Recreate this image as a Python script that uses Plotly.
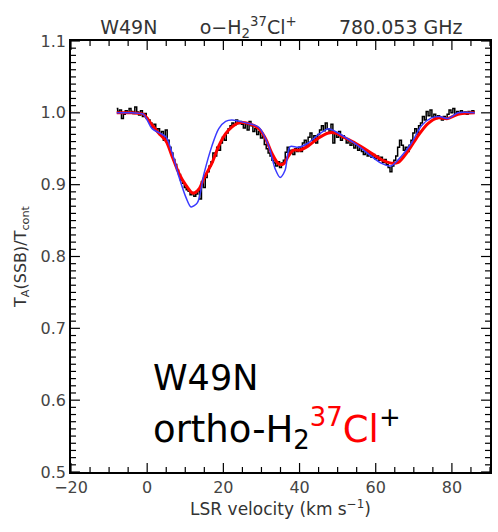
import plotly.graph_objects as go

# Observed spectrum (black), 0.5 km/s channels starting at -8 km/s
obs_t = [1.006, 1.002, 1.004, 0.992, 0.998, 1.003, 1.000, 1.006, 1.002, 0.999, 1.008, 1.001, 0.997, 1.003, 0.995, 0.999,
         0.992, 0.990, 0.986, 0.980, 0.984, 0.975, 0.978, 0.970, 0.974, 0.962, 0.976, 0.962, 0.952, 0.944, 0.935, 0.928, 0.920, 0.914, 0.906, 0.902,
         0.896, 0.893, 0.891, 0.886, 0.889, 0.884, 0.887, 0.892, 0.880, 0.904, 0.896, 0.910, 0.918, 0.926, 0.932, 0.944, 0.940, 0.952, 0.948, 0.958,
         0.966, 0.962, 0.972, 0.978, 0.982, 0.986, 0.983, 0.990, 0.985, 0.988, 0.984, 0.979, 0.985, 0.976, 0.988, 0.982, 0.974, 0.978, 0.970, 0.974,
         0.965, 0.968, 0.956, 0.950, 0.944, 0.940, 0.934, 0.930, 0.926, 0.932, 0.924, 0.930, 0.934, 0.945, 0.952, 0.944, 0.948, 0.942, 0.950, 0.946,
         0.952, 0.946, 0.958, 0.962, 0.954, 0.966, 0.972, 0.962, 0.968, 0.958, 0.970, 0.976, 0.982, 0.975, 0.986, 0.978, 0.972, 0.984, 0.958, 0.972,
         0.966, 0.974, 0.962, 0.968, 0.965, 0.958, 0.962, 0.955, 0.958, 0.951, 0.955, 0.948, 0.952, 0.946, 0.942, 0.948, 0.940, 0.944, 0.938, 0.942,
         0.936, 0.940, 0.934, 0.938, 0.931, 0.935, 0.928, 0.924, 0.918, 0.926, 0.934, 0.940, 0.952, 0.962, 0.955, 0.948, 0.952, 0.946, 0.955, 0.962,
         0.972, 0.978, 0.970, 0.982, 0.986, 0.995, 0.990, 1.002, 0.996, 1.004, 0.994, 0.998, 0.992, 0.996, 0.993, 0.990, 0.995, 0.992, 0.998, 1.004,
         1.000, 1.006, 0.999, 1.002, 0.998, 1.003, 0.999, 1.001, 0.998, 1.002, 1.000, 1.003, 1.001]
obs_v = [-8 + 0.5 * i for i in range(len(obs_t))]

# Fit (red)
fit_v = [-8, -4, -1, 1, 3, 5, 6.5, 8.4, 10.2, 12, 13.6, 15, 17, 18.8, 20.6, 22.2,
         24, 26.7, 29.3, 31.1, 32.7, 34.5, 35.8, 37.1, 38.4, 40, 42.3, 45, 47.6,
         49.4, 52, 54.6, 58, 61.4, 64, 65.9, 68.5, 71.1, 73.7, 76.3, 78.9, 81.6, 86]
fit_t = [1.0, 1.0, 0.998, 0.985, 0.972, 0.96, 0.94, 0.915, 0.899, 0.888, 0.894,
         0.91, 0.93, 0.954, 0.971, 0.98, 0.986, 0.985, 0.978, 0.964, 0.944, 0.929,
         0.929, 0.94, 0.948, 0.948, 0.954, 0.965, 0.972, 0.972, 0.965, 0.958,
         0.947, 0.935, 0.93, 0.931, 0.947, 0.968, 0.985, 0.993, 0.992, 0.998, 1.0]

# Model (blue)
mod_v = [-8, -4, -1, 1.3, 3.6, 5, 6.5, 8.4, 10.2, 11.5, 13.2, 14.9, 17, 18.8, 20.6,
         22.2, 25.9, 29.3, 31.9, 33.6, 34.9, 36.2, 37.5, 39.7, 42.3, 45, 47.6,
         49.4, 54.6, 61.4, 64, 66.8, 69.4, 72, 74.6, 76.8, 78.9, 81.6, 86]
mod_t = [1.0, 1.0, 0.998, 0.978, 0.971, 0.966, 0.945, 0.91, 0.882, 0.869, 0.875,
         0.915, 0.954, 0.978, 0.988, 0.99, 0.986, 0.98, 0.954, 0.922, 0.91, 0.92,
         0.953, 0.952, 0.958, 0.97, 0.978, 0.974, 0.957, 0.93, 0.926, 0.94, 0.958,
         0.982, 0.993, 0.995, 0.992, 1.0, 1.0]

x_ticks = [-20, 0, 20, 40, 60, 80]
y_ticks = [0.5, 0.6, 0.7, 0.8, 0.9, 1.0, 1.1]
x_range = [-20, 90]
y_range = [0.5, 1.1]
x_minor_step = 5
y_minor_step = 0.01

W, H = 498, 532
M = dict(l=71, r=6, t=41, b=60)
plot_w = W - M["l"] - M["r"]
plot_h = H - M["t"] - M["b"]

fig = go.Figure()
fig.add_trace(go.Scatter(x=obs_v, y=obs_t, mode="lines", line=dict(color="black", width=1.5, shape="hvh")))
fig.add_trace(go.Scatter(x=fit_v, y=fit_t, mode="lines", line=dict(color="red", width=3, shape="spline", smoothing=0.8)))
fig.add_trace(go.Scatter(x=mod_v, y=mod_t, mode="lines", line=dict(color="#3a3aff", width=1.5, shape="spline", smoothing=0.8)))

# Tick marks (inside, on all four sides) built from the axis scales
dx = (x_range[1] - x_range[0]) / plot_w   # data units per pixel
dy = (y_range[1] - y_range[0]) / plot_h
major_len, minor_len = 9, 5
tx, ty = [], []
n_x = int(round((x_range[1] - x_range[0]) / x_minor_step))
for i in range(n_x + 1):
    xv = x_range[0] + i * x_minor_step
    L = major_len if any(abs(xv - t) < 1e-9 for t in x_ticks) else minor_len
    tx += [xv, xv, None, xv, xv, None]
    ty += [y_range[0], y_range[0] + L * dy, None, y_range[1], y_range[1] - L * dy, None]
n_y = int(round((y_range[1] - y_range[0]) / y_minor_step))
for i in range(n_y + 1):
    yv = y_range[0] + i * y_minor_step
    L = major_len if any(abs(yv - t) < 1e-9 for t in y_ticks) else minor_len
    tx += [x_range[0], x_range[0] + L * dx, None, x_range[1], x_range[1] - L * dx, None]
    ty += [yv, yv, None, yv, yv, None]
fig.add_trace(go.Scatter(x=tx, y=ty, mode="lines", line=dict(color="black", width=1.2),
                         hoverinfo="skip", connectgaps=False))

FONT = "DejaVu Sans"
axis_font = dict(family=FONT, size=16, color="#444")
common = dict(ticks="", mirror=True,
              showline=True, linecolor="black", linewidth=1.5, showgrid=False, zeroline=False,
              tickfont=axis_font, tickmode="array")
fig.update_layout(
    width=W, height=H,
    margin=M,
    plot_bgcolor="white", paper_bgcolor="white",
    showlegend=False,
    font=dict(family=FONT, color="#333"),
    xaxis=dict(range=x_range, tickvals=x_ticks, ticktext=[str(t).replace("-", "−") for t in x_ticks],
               title=dict(text="LSR velocity (km s<sup>−1</sup>)", font=dict(family=FONT, size=17, color="#333"), standoff=4),
               **common),
    yaxis=dict(range=y_range, tickvals=y_ticks, ticktext=[f"{t:.1f}" for t in y_ticks],
               title=dict(text="T<sub>A</sub>(SSB)/T<sub>cont</sub>", font=dict(family=FONT, size=16, color="#333"), standoff=10),
               **common),
    title=dict(text="W49N       o−H<sub>2</sub><sup>37</sup>Cl<sup>+</sup>       780.053 GHz",
               x=0.565, xanchor="center", y=0.948, yanchor="middle",
               font=dict(family=FONT, size=19, color="#333")),
)

fig.add_annotation(xref="paper", yref="paper", x=0.19, y=0.218, xanchor="left", yanchor="middle",
                   text="W49N", showarrow=False, align="left",
                   font=dict(family=FONT, size=35, color="black"))
fig.add_annotation(xref="paper", yref="paper", x=0.19, y=0.102, xanchor="left", yanchor="middle",
                   text="ortho-H<sub>2</sub><span style='color:red'><sup>37</sup>Cl</span><sup>+</sup>",
                   showarrow=False, align="left",
                   font=dict(family=FONT, size=37, color="black"))

fig.write_html("out.html")
